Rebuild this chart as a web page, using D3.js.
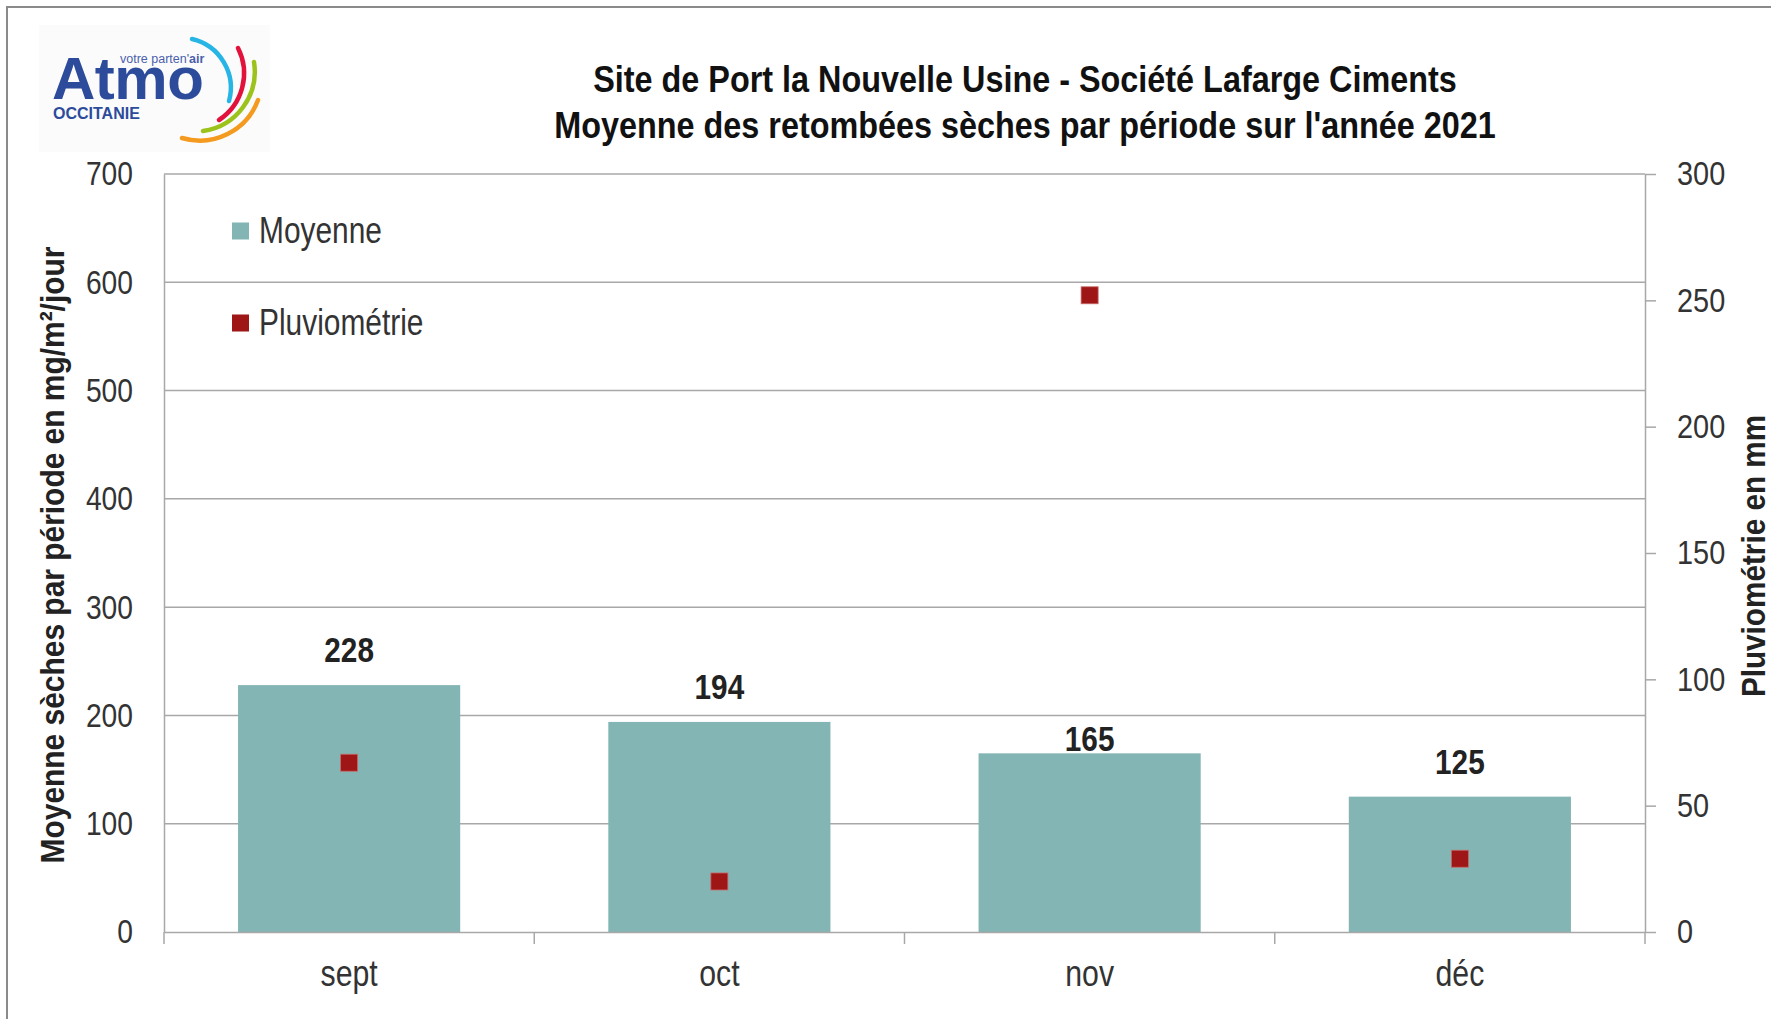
<!DOCTYPE html>
<html>
<head>
<meta charset="utf-8">
<script src="https://cdn.jsdelivr.net/npm/d3@7"></script>
<style>
  html, body { margin: 0; padding: 0; background: #ffffff; }
  svg { display: block; }
</style>
</head>
<body>
<svg id="chart" width="1771" height="1019"></svg>
<script>
// ---------------- DATA ----------------
const categories = ["sept", "oct", "nov", "déc"];
const moyenne = [228, 194, 165, 125];          // mg/m²/jour (left axis)
const pluviometrie = [67, 20, 252, 29];         // mm (right axis)
const leftTicks = [0, 100, 200, 300, 400, 500, 600, 700];
const rightTicks = [0, 50, 100, 150, 200, 250, 300];
const titleLines = [
  "Site de Port la Nouvelle Usine - Société Lafarge Ciments",
  "Moyenne des retombées sèches par période sur l'année 2021"
];
const seriesNames = ["Moyenne", "Pluviométrie"];
const leftAxisTitle = "Moyenne sèches par période en mg/m²/jour";
const rightAxisTitle = "Pluviométrie en mm";

// ---------------- STYLE ----------------
const NARROW = "'Liberation Sans Narrow', 'Arial Narrow', 'Liberation Sans', Arial, sans-serif";
const barColor = "#84b5b5";
const markerColor = "#9e1616";
const gridColor = "#a8a8a8";
const textColor = "#333333";
const labelDy = [0, 0, 21, 0]; // manual nudge of the data labels (nov label was moved down)

// emulate a condensed (Arial Narrow–like) face by squeezing the glyphs horizontally
function condense(sel, factor) {
  sel.each(function () {
    const len = this.getComputedTextLength();
    d3.select(this).attr("textLength", len * factor).attr("lengthAdjust", "spacingAndGlyphs");
  });
}

const svg = d3.select("#chart");
const W = 1771, H = 1019;
const plot = { left: 164, right: 1645, top: 174, bottom: 932 };

// outer frame
svg.append("rect").attr("x", 7).attr("y", 7).attr("width", W + 20).attr("height", H + 20)
  .attr("fill", "none").attr("stroke", "#8a8a8a").attr("stroke-width", 2);

// ---------------- SCALES ----------------
const x = d3.scaleBand().domain(categories).range([plot.left, plot.right])
  .paddingInner(0.4).paddingOuter(0.2);
const yL = d3.scaleLinear().domain([0, 700]).range([plot.bottom, plot.top]);
const yR = d3.scaleLinear().domain([0, 300]).range([plot.bottom, plot.top]);

// ---------------- GRID ----------------
svg.append("g").selectAll("line").data(leftTicks.filter(d => d > 0)).join("line")
  .attr("x1", plot.left).attr("x2", plot.right)
  .attr("y1", d => yL(d)).attr("y2", d => yL(d))
  .attr("stroke", gridColor).attr("stroke-width", 1.5);

// ---------------- BARS ----------------
svg.append("g").selectAll("rect").data(categories).join("rect")
  .attr("x", d => x(d)).attr("width", x.bandwidth())
  .attr("y", (d, i) => yL(moyenne[i]))
  .attr("height", (d, i) => yL(0) - yL(moyenne[i]))
  .attr("fill", barColor);

// data labels
svg.append("g").selectAll("text").data(categories).join("text")
  .attr("x", d => x(d) + x.bandwidth() / 2)
  .attr("y", (d, i) => yL(moyenne[i]) - 23 + labelDy[i])
  .attr("text-anchor", "middle")
  .attr("font-family", NARROW).attr("font-weight", "bold").attr("font-size", 35)
  .attr("fill", "#222")
  .text((d, i) => moyenne[i])
  .call(condense, 0.85);

// ---------------- AXES ----------------
// left axis (no ticks, labels only)
const gL = svg.append("g").attr("transform", `translate(${plot.left},0)`)
  .call(d3.axisLeft(yL).tickValues(leftTicks).tickSize(0).tickPadding(31));
gL.select(".domain").attr("stroke", gridColor).attr("stroke-width", 1.5);
gL.selectAll("text").attr("font-family", NARROW).attr("font-size", 34).attr("fill", textColor)
  .call(condense, 0.83);

// right axis
const gR = svg.append("g").attr("transform", `translate(${plot.right},0)`)
  .call(d3.axisRight(yR).tickValues(rightTicks).tickSize(11).tickSizeOuter(0).tickPadding(21));
gR.select(".domain").attr("stroke", gridColor).attr("stroke-width", 1.5);
gR.selectAll(".tick line").attr("stroke", gridColor).attr("stroke-width", 1.5);
gR.selectAll("text").attr("font-family", NARROW).attr("font-size", 34).attr("fill", textColor)
  .call(condense, 0.85);

// bottom axis
const gB = svg.append("g").attr("transform", `translate(0,${plot.bottom})`)
  .call(d3.axisBottom(x).tickSize(0).tickPadding(28));
gB.select(".domain").attr("stroke", gridColor).attr("stroke-width", 1.5);
gB.selectAll("text").attr("font-family", NARROW).attr("font-size", 36).attr("fill", textColor)
  .call(condense, 0.84);
// category separators (tick marks on the band boundaries)
const bounds = categories.map(d => x(d) - x.step() * x.paddingOuter() * 0 - (x.step() - x.bandwidth()) / 2)
  .concat([plot.right]);
gB.append("g").selectAll("line").data(bounds).join("line")
  .attr("x1", d => d).attr("x2", d => d).attr("y1", 0).attr("y2", 12)
  .attr("stroke", gridColor).attr("stroke-width", 1.5);

// ---------------- MARKERS ----------------
const ms = 17;
svg.append("g").selectAll("rect").data(categories).join("rect")
  .attr("x", d => x(d) + x.bandwidth() / 2 - ms / 2)
  .attr("y", (d, i) => yR(pluviometrie[i]) - ms / 2)
  .attr("width", ms).attr("height", ms)
  .attr("fill", markerColor).attr("stroke", "#c86a6a").attr("stroke-width", 0.8);

// ---------------- LEGEND ----------------
const legend = svg.append("g");
const legendItems = [
  { name: seriesNames[0], color: barColor, cy: 231 },
  { name: seriesNames[1], color: markerColor, cy: 323 }
];
legend.selectAll("rect").data(legendItems).join("rect")
  .attr("x", 232).attr("y", d => d.cy - 8.5).attr("width", 17).attr("height", 17)
  .attr("fill", d => d.color);
legend.selectAll("text").data(legendItems).join("text")
  .attr("x", 259).attr("y", d => d.cy + 12)
  .attr("font-family", NARROW).attr("font-size", 36).attr("fill", textColor)
  .text(d => d.name)
  .call(condense, 0.83);

// ---------------- TITLES ----------------
svg.append("g").selectAll("text").data(titleLines).join("text")
  .attr("x", 1025).attr("y", (d, i) => 92 + i * 46)
  .attr("text-anchor", "middle")
  .attr("font-family", NARROW).attr("font-weight", "bold").attr("font-size", 37)
  .attr("fill", "#111")
  .text(d => d)
  .call(condense, 0.875);

svg.append("text")
  .attr("transform", "translate(64,555) rotate(-90)")
  .attr("text-anchor", "middle")
  .attr("font-family", NARROW).attr("font-weight", "bold").attr("font-size", 34)
  .attr("fill", "#222")
  .text(leftAxisTitle)
  .call(condense, 0.88);

svg.append("text")
  .attr("transform", "translate(1765,556) rotate(-90)")
  .attr("text-anchor", "middle")
  .attr("font-family", NARROW).attr("font-weight", "bold").attr("font-size", 33)
  .attr("fill", "#222")
  .text(rightAxisTitle)
  .call(condense, 0.9);

// ---------------- LOGO ----------------
const logo = svg.append("g");
logo.append("rect").attr("x", 39).attr("y", 25).attr("width", 231).attr("height", 127).attr("fill", "#fbfbfb");
logo.append("text").attr("x", 52).attr("y", 99)
  .attr("font-family", "'Liberation Sans', Arial, sans-serif").attr("font-weight", "bold")
  .attr("font-size", 60).attr("fill", "#2c4b9b").attr("letter-spacing", -0.5).text("Atmo");
logo.append("text").attr("x", 53).attr("y", 119)
  .attr("font-family", "'Liberation Sans', Arial, sans-serif").attr("font-weight", "bold")
  .attr("font-size", 16).attr("fill", "#2c4b9b").text("OCCITANIE");
const tag = logo.append("text").attr("x", 120).attr("y", 63)
  .attr("font-family", "'Liberation Sans', Arial, sans-serif").attr("font-size", 12.5).attr("fill", "#4a5fab");
tag.append("tspan").text("votre parten'");
tag.append("tspan").attr("font-weight", "bold").text("air");
const arcs = [
  { d: "M192,39 A50 50 0 0 1 229,101", c: "#27b5e5" },
  { d: "M238,48 A56 56 0 0 1 219,120", c: "#e2123c" },
  { d: "M254,62 A60 60 0 0 1 203,131", c: "#9bc31c" },
  { d: "M258,100 A62 62 0 0 1 182,138", c: "#f39a1f" }
];
logo.selectAll("path").data(arcs).join("path")
  .attr("d", d => d.d).attr("fill", "none").attr("stroke", d => d.c)
  .attr("stroke-width", 4.5).attr("stroke-linecap", "round");
</script>
</body>
</html>
